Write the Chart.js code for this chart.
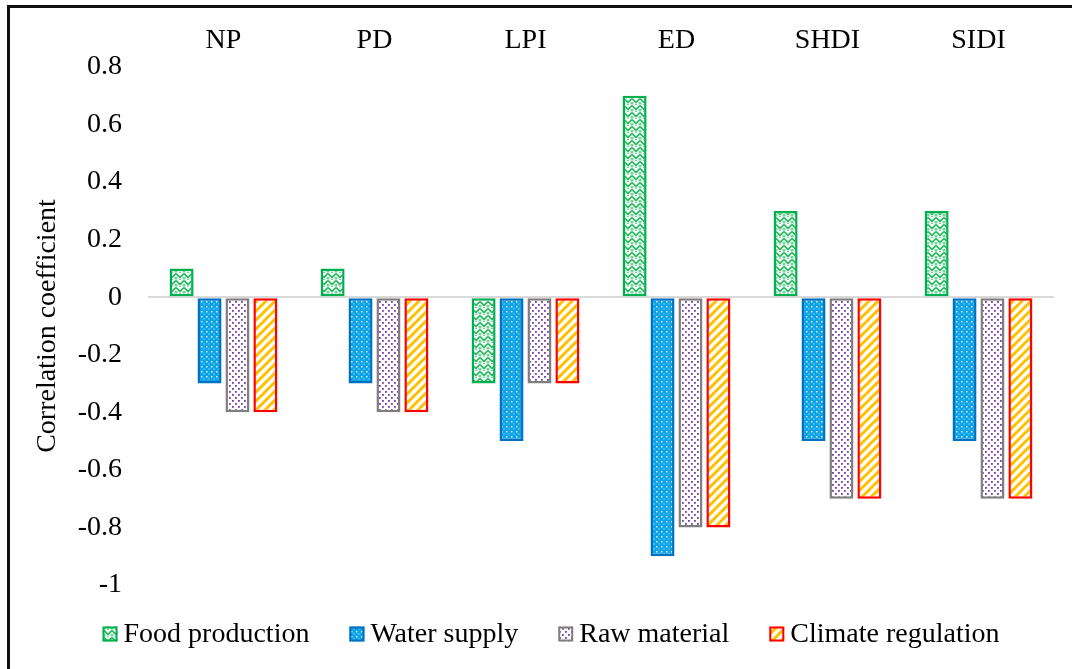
<!DOCTYPE html>
<html>
<head>
<meta charset="utf-8">
<script src="https://cdn.jsdelivr.net/npm/chart.js@4/dist/chart.umd.min.js"></script>
<style>
  html, body { margin: 0; padding: 0; background: #fff; }
  #wrap { position: relative; width: 1072px; height: 669px; }
</style>
</head>
<body>
<div id="wrap"><canvas id="chart" width="1072" height="669"></canvas></div>
<script>
// Landscape metrics and their correlation with each ecosystem service
const categories = ['NP', 'PD', 'LPI', 'ED', 'SHDI', 'SIDI'];
const foodProduction    = [0.1, 0.1, -0.3, 0.7, 0.3, 0.3];
const waterSupply       = [-0.3, -0.3, -0.5, -0.9, -0.5, -0.5];
const rawMaterial       = [-0.4, -0.4, -0.3, -0.8, -0.7, -0.7];
const climateRegulation = [-0.4, -0.4, -0.3, -0.8, -0.7, -0.7];
const seriesNames = ['Food production', 'Water supply', 'Raw material', 'Climate regulation'];
const yMin = -1, yMax = 0.8, yStep = 0.2;

const FONT = '"Liberation Serif", "Times New Roman", serif';
const canvas = document.getElementById('chart');
const ctx = canvas.getContext('2d');

function makePattern(w, h, draw) {
  const c = document.createElement('canvas');
  c.width = w; c.height = h;
  const g = c.getContext('2d');
  draw(g, w, h);
  return ctx.createPattern(c, 'repeat');
}

// green weave on white
const foodFill = makePattern(8, 7, (g, w, h) => {
  g.fillStyle = '#ffffff'; g.fillRect(0, 0, w, h);
  g.strokeStyle = '#2fb866'; g.lineWidth = 1.8;
  g.beginPath();
  g.moveTo(0, 0.5); g.lineTo(4, 4.5); g.lineTo(8, 0.5);
  g.stroke();
  g.fillStyle = '#6fd39a';
  g.fillRect(0, 4, 1.5, 2.5); g.fillRect(6.5, 4, 1.5, 2.5); g.fillRect(3, 6, 2, 1);
});
// blue with white dots
const waterFill = makePattern(5, 5, (g, w, h) => {
  g.fillStyle = '#0ea3e4'; g.fillRect(0, 0, w, h);
  g.fillStyle = 'rgba(255,255,255,0.8)';
  g.fillRect(1, 1, 1.5, 1.5); g.fillRect(3.5, 3.5, 1, 1);
});
// white with purple dots
const rawFill = makePattern(6, 6, (g, w, h) => {
  g.fillStyle = '#ffffff'; g.fillRect(0, 0, w, h);
  g.fillStyle = '#7a3aae';
  g.fillRect(1, 1, 1.8, 1.8); g.fillRect(4, 4, 1.8, 1.8);
});
// white with orange diagonal stripes
const climateFill = makePattern(9, 9, (g, w, h) => {
  g.fillStyle = '#ffffff'; g.fillRect(0, 0, w, h);
  g.strokeStyle = '#ffc000'; g.lineWidth = 3;
  g.beginPath();
  g.moveTo(-3, 3); g.lineTo(3, -3);
  g.moveTo(0, 9); g.lineTo(9, 0);
  g.moveTo(6, 12); g.lineTo(12, 6);
  g.stroke();
});

const fills = [foodFill, waterFill, rawFill, climateFill];
const borders = ['#00b050', '#0070c0', '#7f7f7f', '#ff0000'];
const values = [foodProduction, waterSupply, rawMaterial, climateRegulation];

const datasets = seriesNames.map((name, i) => ({
  label: name,
  data: values[i],
  backgroundColor: fills[i],
  borderColor: borders[i],
  borderWidth: 2.5,
  borderSkipped: false,
  categoryPercentage: 0.74,
  barPercentage: 0.86
}));

// outer frame (left and top edges)
const framePlugin = {
  id: 'frame',
  beforeDraw(chart) {
    const g = chart.ctx;
    g.save();
    g.fillStyle = '#ffffff';
    g.fillRect(0, 0, chart.width, chart.height);
    g.fillStyle = '#111111';
    g.fillRect(7, 5, 3, chart.height);
    g.fillRect(7, 5, chart.width, 3);
    g.restore();
  }
};

// legend row under the plot
const legendPlugin = {
  id: 'rowLegend',
  afterDraw(chart) {
    const g = chart.ctx;
    const box = 15, gapText = 6, gapItem = 40;
    const cy = 634;
    g.save();
    g.font = '28px ' + FONT;
    g.textBaseline = 'middle';
    g.fillStyle = '#000000';
    const widths = chart.data.datasets.map(d => g.measureText(d.label).width);
    const total = widths.reduce((a, w) => a + box + gapText + w, 0) + gapItem * (widths.length - 1);
    let x = 551 - total / 2;
    chart.data.datasets.forEach((d, i) => {
      g.fillStyle = d.backgroundColor;
      g.fillRect(x, cy - box / 2, box, box);
      g.strokeStyle = d.borderColor;
      g.lineWidth = 2;
      g.strokeRect(x + 1, cy - box / 2 + 1, box - 2, box - 2);
      g.fillStyle = '#000000';
      g.fillText(d.label, x + box + gapText, cy + 1);
      x += box + gapText + widths[i] + gapItem;
    });
    g.restore();
  }
};

new Chart(canvas, {
  type: 'bar',
  data: { labels: categories, datasets },
  plugins: [framePlugin, legendPlugin],
  options: {
    responsive: false,
    animation: false,
    devicePixelRatio: 1,
    layout: { padding: { top: 0, left: 27, right: 18, bottom: 84 } },
    plugins: {
      legend: { display: false },
      tooltip: { enabled: false }
    },
    scales: {
      x: {
        position: 'top',
        grid: { display: false, drawTicks: false },
        border: { display: false },
        ticks: {
          color: '#000000',
          font: { family: FONT, size: 28 },
          padding: 10,
          maxRotation: 0
        },
        afterFit(scale) { scale.height = 67; }
      },
      y: {
        min: yMin,
        max: yMax,
        border: { display: false },
        grid: {
          drawTicks: false,
          lineWidth: 2,
          color: c => (c.tick && Math.abs(c.tick.value) < 1e-9) ? '#d9d9d9' : 'rgba(0,0,0,0)'
        },
        ticks: {
          stepSize: yStep,
          color: '#000000',
          font: { family: FONT, size: 28 },
          padding: 26,
          callback: v => String(parseFloat(Number(v).toFixed(1)))
        },
        title: {
          display: true,
          text: 'Correlation coefficient',
          color: '#000000',
          font: { family: FONT, size: 28 },
          padding: { top: 4, bottom: 0 }
        },
        afterFit(scale) { scale.width = 121; }
      }
    }
  }
});
</script>
</body>
</html>
